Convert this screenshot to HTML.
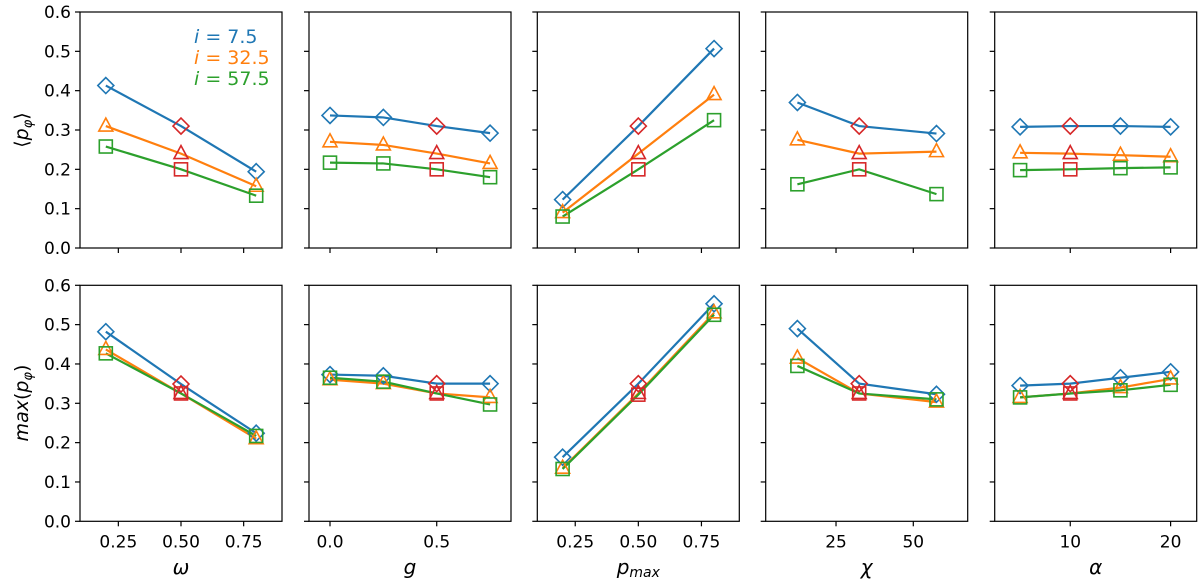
<!DOCTYPE html>
<html><head><meta charset="utf-8"><style>
html,body{margin:0;padding:0;background:#fff;}
svg{display:block;font-family:"DejaVu Sans","Liberation Sans",sans-serif;}
</style></head><body>
<svg id="chart" width="1200" height="584" xmlns="http://www.w3.org/2000/svg"></svg>
<script>
const yTicks = [0.0, 0.1, 0.2, 0.3, 0.4, 0.5, 0.6];
const seriesNames = ["i = 7.5", "i = 32.5", "i = 57.5"];
const omegaVals = [0.2, 0.5, 0.8];
const gVals = [0, 0.25, 0.5, 0.75];
const pmaxVals = [0.2, 0.5, 0.8];
const chiVals = [12.5, 32.5, 57.5];
const alphaVals = [5, 10, 15, 20];
const omegaTicks = [0.25, 0.5, 0.75];
const omegaTickLabels = ["0.25", "0.50", "0.75"];
const gTicks = [0, 0.5];
const gTickLabels = ["0.0", "0.5"];
const pmaxTicks = [0.25, 0.5, 0.75];
const pmaxTickLabels = ["0.25", "0.50", "0.75"];
const chiTicks = [25, 50];
const chiTickLabels = ["25", "50"];
const alphaTicks = [10, 20];
const alphaTickLabels = ["10", "20"];
const redIndexOmega = 1, redIndexG = 2, redIndexPmax = 1, redIndexChi = 1, redIndexAlpha = 1;
// mean p_phi (top row)
const meanOmega = [[0.413, 0.31, 0.194], [0.31, 0.24, 0.157], [0.258, 0.2, 0.133]];
const meanG = [[0.337, 0.332, 0.31, 0.292], [0.27, 0.262, 0.24, 0.215], [0.217, 0.215, 0.2, 0.18]];
const meanPmax = [[0.123, 0.31, 0.507], [0.09, 0.24, 0.39], [0.08, 0.2, 0.325]];
const meanChi = [[0.37, 0.31, 0.291], [0.275, 0.24, 0.245], [0.162, 0.2, 0.137]];
const meanAlpha = [[0.308, 0.31, 0.31, 0.308], [0.242, 0.24, 0.236, 0.232], [0.198, 0.2, 0.203, 0.205]];
// max p_phi (bottom row)
const maxOmega = [[0.482, 0.349, 0.224], [0.437, 0.325, 0.21], [0.427, 0.325, 0.217]];
const maxG = [[0.373, 0.37, 0.35, 0.35], [0.36, 0.35, 0.325, 0.315], [0.365, 0.355, 0.325, 0.297]];
const maxPmax = [[0.163, 0.35, 0.553], [0.135, 0.325, 0.53], [0.133, 0.322, 0.525]];
const maxChi = [[0.49, 0.35, 0.323], [0.415, 0.325, 0.303], [0.395, 0.325, 0.31]];
const maxAlpha = [[0.345, 0.35, 0.365, 0.38], [0.315, 0.325, 0.34, 0.362], [0.315, 0.325, 0.333, 0.347]];

const NS = "http://www.w3.org/2000/svg";
const svg = document.getElementById("chart");
const colors = ["#1f77b4", "#ff7f0e", "#2ca02c"];
const red = "#d62728";
const markers = ["diamond", "triangle", "square"];
function mk(tag, attrs, parent) {
  const e = document.createElementNS(NS, tag);
  for (const k in attrs) e.setAttribute(k, attrs[k]);
  (parent || svg).appendChild(e);
  return e;
}
const panelW = 202;
const lefts = [80, 309, 537.3, 765.7, 994.7];
const rows = [{top: 12, bot: 248}, {top: 285.3, bot: 521.3}];
const cols = [
  {xs: omegaVals, dom: [0.097, 0.903], ticks: omegaTicks, labels: omegaTickLabels, red: redIndexOmega, top: meanOmega, bot: maxOmega, name: "omega", xlabel: "ω"},
  {xs: gVals, dom: [-0.0984, 0.848], ticks: gTicks, labels: gTickLabels, red: redIndexG, top: meanG, bot: maxG, name: "g", xlabel: "g"},
  {xs: pmaxVals, dom: [0.0997, 0.9], ticks: pmaxTicks, labels: pmaxTickLabels, red: redIndexPmax, top: meanPmax, bot: maxPmax, name: "pmax", xlabel: "p"},
  {xs: chiVals, dom: [2.25, 67.6], ticks: chiTicks, labels: chiTickLabels, red: redIndexChi, top: meanChi, bot: maxChi, name: "chi", xlabel: "χ"},
  {xs: alphaVals, dom: [2.47, 22.6], ticks: alphaTicks, labels: alphaTickLabels, red: redIndexAlpha, top: meanAlpha, bot: maxAlpha, name: "alpha", xlabel: "α"}
];
function drawMarker(type, x, y, color, g) {
  let e;
  if (type === "diamond") {
    e = mk("polygon", {points: `${x},${y-8} ${x+8},${y} ${x},${y+8} ${x-8},${y}`}, g);
  } else if (type === "triangle") {
    e = mk("polygon", {points: `${x},${y-8} ${x+7},${y+5} ${x-7},${y+5}`}, g);
  } else {
    e = mk("rect", {x: x-6.5, y: y-6.5, width: 13, height: 13}, g);
  }
  e.setAttribute("fill", "none");
  e.setAttribute("stroke", color);
  e.setAttribute("stroke-width", "1.6");
  
  
}
rows.forEach((row, ri) => {
  const yS = v => row.bot - (v / 0.6) * (row.bot - row.top);
  cols.forEach((c, ci) => {
    const L = lefts[ci], R = L + panelW;
    const xS = v => L + (v - c.dom[0]) / (c.dom[1] - c.dom[0]) * panelW;
    const g = mk("g", {});
    
    
    yTicks.forEach(t => {
      const y = yS(t);
      const tk = mk("line", {x1: L - 5, x2: L, y1: y, y2: y, stroke: "#000", "stroke-width": 1.2}, g);
      
      
      if (ci === 0) {
        const tl = mk("text", {x: L - 9, y: y + 6, "text-anchor": "end", "font-size": 17, fill: "#000"}, g);
        tl.textContent = t.toFixed(1);
        
        
      }
    });
    c.ticks.forEach((t, k) => {
      const x = xS(t);
      const tk = mk("line", {x1: x, x2: x, y1: row.bot, y2: row.bot + 5, stroke: "#000", "stroke-width": 1.2}, g);
      
      
      if (ri === 1) {
        const tl = mk("text", {x: x, y: row.bot + 26, "text-anchor": "middle", "font-size": 17, fill: "#000"}, g);
        tl.textContent = c.labels[k];
        
        
      }
    });
    const data = ri === 0 ? c.top : c.bot;
    data.forEach((vals, si) => {
      const pts = vals.map((v, k) => `${xS(c.xs[k])},${yS(v)}`).join(" ");
      const pl = mk("polyline", {points: pts, fill: "none", stroke: colors[si], "stroke-width": 2.2}, g);
      
      
    });
    data.forEach((vals, si) => {
      vals.forEach((v, k) => {
        drawMarker(markers[si], xS(c.xs[k]), yS(v), k === c.red ? red : colors[si], g);
      });
    });
    const fr = mk("rect", {x: L, y: row.top, width: panelW, height: row.bot - row.top, fill: "none", stroke: "#000", "stroke-width": 1.2}, g);
    
    
    if (ri === 1) {
      const xl = mk("text", {x: L + panelW / 2, y: 574, "text-anchor": "middle", "font-size": 20, "font-style": "italic", fill: "#000"});
      
      
      if (c.name === "pmax") {
        xl.innerHTML = 'p<tspan font-size="14" dy="3">max</tspan>';
      } else {
        xl.textContent = c.xlabel;
      }
    }
  });
});
const yt1 = mk("text", {transform: "translate(28,130) rotate(-90)", "text-anchor": "middle", "font-size": 19, fill: "#000"});
yt1.innerHTML = '⟨<tspan font-style="italic">p</tspan><tspan font-style="italic" font-size="13" dy="4">φ</tspan><tspan dy="-4">⟩</tspan>';


const yt2 = mk("text", {transform: "translate(28,403) rotate(-90)", "text-anchor": "middle", "font-size": 19, fill: "#000"});
yt2.innerHTML = '<tspan font-style="italic">max</tspan>(<tspan font-style="italic">p</tspan><tspan font-style="italic" font-size="13" dy="4">φ</tspan><tspan dy="-4">)</tspan>';


seriesNames.forEach((n, si) => {
  const t = mk("text", {x: 194, y: 43 + si * 21, "font-size": 19, fill: colors[si]});
  t.innerHTML = '<tspan font-style="italic">i</tspan> = ' + n.split("= ")[1];
  
  
});
</script>
</body></html>
